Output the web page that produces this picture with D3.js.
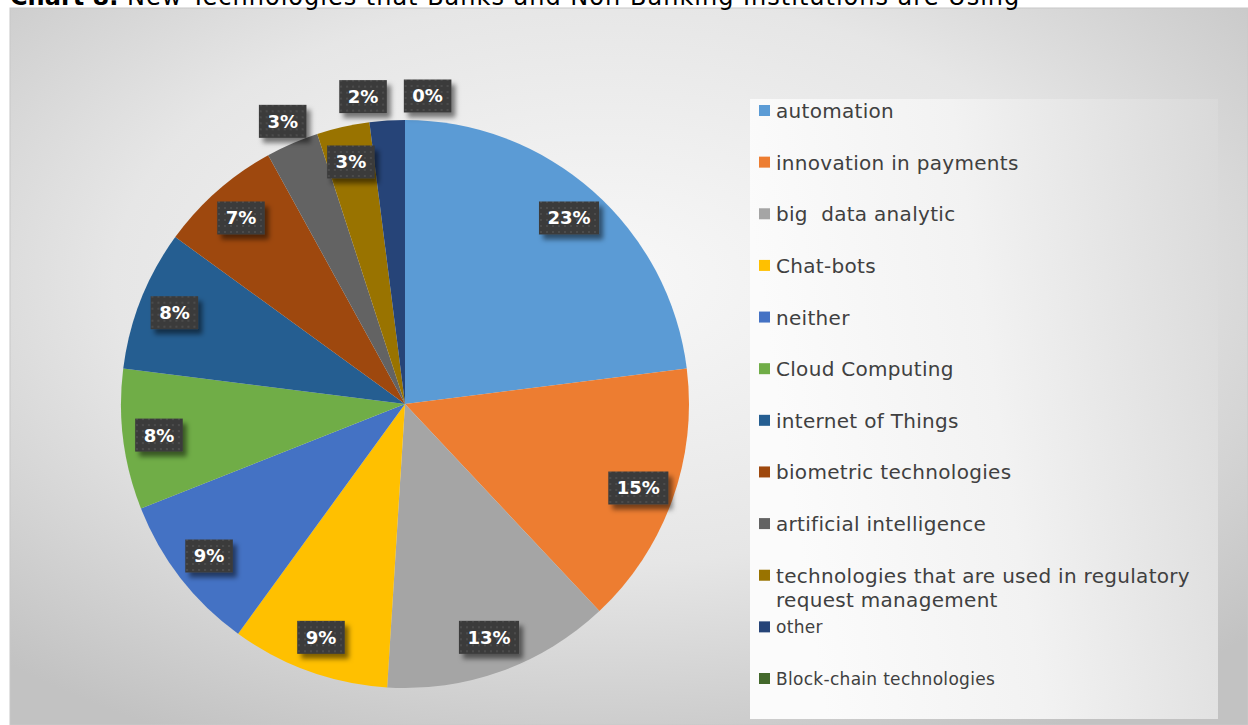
<!DOCTYPE html>
<html>
<head>
<meta charset="utf-8">
<script src="https://cdn.jsdelivr.net/npm/d3@7"></script>
<style>
html,body{margin:0;padding:0;background:#fff;}
svg{display:block;}
text{font-family:"DejaVu Sans",sans-serif;white-space:pre;}
</style>
</head>
<body>
<svg id="chart" width="1248" height="725"></svg>
<script>
const titleBold = "Chart 8.";
const titleRest = " New Technologies that Banks and Non-Banking Institutions are Using";
const categories = ["automation","innovation in payments","big  data analytic","Chat-bots","neither","Cloud Computing","internet of Things","biometric technologies","artificial intelligence","technologies that are used in regulatory request management","other","Block-chain technologies"];
const values = [23,15,13,9,9,8,8,7,3,3,2,0];
const colors = ["#5B9BD5","#ED7D31","#A5A5A5","#FFC000","#4472C4","#70AD47","#255E91","#9E480E","#636363","#997300","#264478","#43682B"];

const svg = d3.select("#chart");
const W = 1248, H = 725;
const defs = svg.append("defs");

const bg = defs.append("radialGradient").attr("id","bgGrad")
  .attr("cx","48%").attr("cy","38%").attr("r","72%");
bg.append("stop").attr("offset","0%").attr("stop-color","#f8f8f8");
bg.append("stop").attr("offset","55%").attr("stop-color","#e6e6e6");
bg.append("stop").attr("offset","100%").attr("stop-color","#c2c2c2");

const lg = defs.append("linearGradient").attr("id","legGrad")
  .attr("x1","0").attr("y1","0.2").attr("x2","1").attr("y2","0");
lg.append("stop").attr("offset","0%").attr("stop-color","#fbfbfb");
lg.append("stop").attr("offset","45%").attr("stop-color","#f2f2f2");
lg.append("stop").attr("offset","100%").attr("stop-color","#d9d9d9");

const pat = defs.append("pattern").attr("id","dots").attr("patternUnits","userSpaceOnUse")
  .attr("width",6).attr("height",6);
pat.append("rect").attr("width",6).attr("height",6).attr("fill","#3b3b3b");
pat.append("rect").attr("x",1).attr("y",1).attr("width",2).attr("height",2).attr("fill","#4c4c4c");

const sh = defs.append("filter").attr("id","shadow").attr("x","-30%").attr("y","-30%").attr("width","170%").attr("height","170%");
sh.append("feDropShadow").attr("dx",4).attr("dy",5).attr("stdDeviation",2.5)
  .attr("flood-color","#000").attr("flood-opacity",0.5);

svg.append("rect").attr("x",10).attr("y",8).attr("width",W-10).attr("height",H-8)
  .attr("fill","url(#bgGrad)").attr("stroke","#c8c8c8").attr("stroke-width",1);

// title (partly clipped by the top edge, as in the reference)
const title = svg.append("text").attr("x",10).attr("y",5).attr("font-size",24).attr("fill","#000");
title.append("tspan").attr("font-weight","bold").text(titleBold);
title.append("tspan").attr("letter-spacing","1px").text(titleRest);

svg.append("rect").attr("x",750).attr("y",99).attr("width",468).attr("height",620)
  .attr("fill","url(#legGrad)");

const cx = 405, cy = 404, R = 284;
const data = categories.map((c,i)=>({cat:c, value:values[i], color:colors[i], idx:i}));
const pie = d3.pie().value(d=>d.value).sort(null);
const arcs = pie(data);
const arc = d3.arc().innerRadius(0).outerRadius(R);
const g = svg.append("g").attr("transform",`translate(${cx},${cy})`);
g.selectAll("path").data(arcs).join("path")
  .attr("d",arc).attr("fill",d=>d.data.color);

const inArc = d3.arc().innerRadius(248).outerRadius(248);
const outArc = d3.arc().innerRadius(308).outerRadius(308);
const lg2 = g.append("g");
const measure = lg2.append("text").attr("font-size",18).attr("font-weight","bold");
arcs.forEach(a=>{
  measure.text(a.data.value+"%");
  a.tw = measure.node().getComputedTextLength();
  a.bw = a.tw + 17; a.bh = 33;
});
measure.remove();
function overlap(a,b,pad){
  return Math.abs(a.x-b.x) < (a.bw+b.bw)/2+pad && Math.abs(a.y-b.y) < (a.bh+b.bh)/2+pad;
}
const order = arcs.slice().sort((a,b)=> (b.data.value - a.data.value) || (b.index - a.index));
const placed = [];
const outside = [];
order.forEach(a=>{
  const [x,y] = inArc.centroid(a);
  a.x = x; a.y = y;
  if (a.data.value > 0 && !placed.some(p=>overlap(a,p,4))) { placed.push(a); }
  else {
    const [ox,oy] = outArc.centroid(a);
    a.x = ox; a.y = oy; outside.push(a);
  }
});
outside.sort((a,b)=>a.x-b.x);
for (let k=1;k<outside.length;k++){
  const p = outside[k-1], q = outside[k];
  const need = (p.bw+q.bw)/2 + 17;
  if (Math.abs(p.y-q.y) < (p.bh+q.bh)/2 && q.x - p.x < need) {
    const push = (need - (q.x-p.x))/2;
    p.x -= push; q.x += push;
  }
}
const lab = lg2.selectAll("g").data(arcs).join("g")
  .attr("transform",d=>`translate(${d.x},${d.y})`);
lab.append("rect").attr("x",d=>-d.bw/2).attr("y",d=>-d.bh/2)
  .attr("width",d=>d.bw).attr("height",d=>d.bh)
  .attr("fill","url(#dots)").attr("filter","url(#shadow)");
lab.append("text").attr("text-anchor","middle").attr("dy","0.36em")
  .attr("font-size",18).attr("font-weight","bold").attr("fill","#fff")
  .text(d=>d.data.value+"%");

const ly = d3.scalePoint().domain(categories).range([111,679]);
const leg = svg.append("g");
const items = leg.selectAll("g").data(data).join("g")
  .attr("transform",d=>`translate(759,${ly(d.cat)})`);
items.append("rect").attr("x",0).attr("y",-6).attr("width",11).attr("height",11)
  .attr("fill",d=>d.color);
items.each(function(d){
  const fs = d.idx >= 10 ? 17 : 20;
  const t = d3.select(this).append("text").attr("x",17).attr("y",0)
    .attr("font-size",fs).attr("fill","#404040").attr("letter-spacing","0.3px");
  const words = d.cat.split(" ");
  let line = [];
  let ts = t.append("tspan").attr("x",17).attr("dy","0.35em");
  words.forEach(w=>{
    line.push(w);
    ts.text(line.join(" "));
    if (ts.node().getComputedTextLength() > 440 && line.length > 1) {
      line.pop(); ts.text(line.join(" "));
      line = [w];
      ts = t.append("tspan").attr("x",17).attr("dy","1.2em").text(w);
    }
  });
});
</script>
</body>
</html>
